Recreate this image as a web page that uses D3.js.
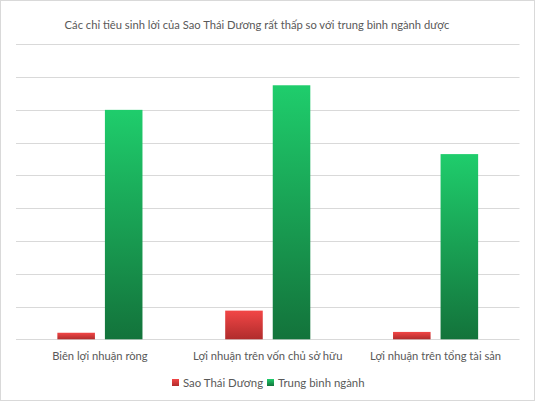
<!DOCTYPE html>
<html><head><meta charset="utf-8">
<script src="https://cdn.jsdelivr.net/npm/d3@7"></script>
<style>body{margin:0;background:#fff}svg{display:block}</style>
</head><body>
<svg id="c" width="535" height="401"></svg>
<script>
const title = "Các chỉ tiêu sinh lời của Sao Thái Dương rất thấp so với trung bình ngành dược";
const categories = ["Biên lợi nhuận ròng", "Lợi nhuận trên vốn chủ sở hữu", "Lợi nhuận trên tổng tài sản"];
const seriesNames = ["Sao Thái Dương", "Trung bình ngành"];
const saoThaiDuong = [0.4, 1.75, 0.45];
const trungBinhNganh = [14, 15.5, 11.3];
const yTicks = [0, 2, 4, 6, 8, 10, 12, 14, 16, 18];

const seriesValues = [saoThaiDuong, trungBinhNganh];
const colors = [["#f24646", "#b02c2c"], ["#1fcd6c", "#13733b"]];
const font = "Lato, 'Open Sans', sans-serif";
const fs = 11.2;

const svg = d3.select("#c");
svg.append("rect").attr("x", 0.5).attr("y", 0.5).attr("width", 534).attr("height", 400)
  .attr("fill", "#fff").attr("stroke", "#d9d9d9");

const defs = svg.append("defs");
colors.forEach((c, i) => {
  const g = defs.append("linearGradient").attr("id", "g" + i).attr("x1", 0).attr("y1", 0).attr("x2", 0).attr("y2", 1);
  g.append("stop").attr("offset", "0%").attr("stop-color", c[0]);
  g.append("stop").attr("offset", "100%").attr("stop-color", c[1]);
});

const x0 = d3.scaleBand().domain(categories).range([16, 519.5]).padding(0);
const x1 = d3.scaleBand().domain(seriesNames).range([0, x0.bandwidth()]).paddingInner(0.21).paddingOuter(0.87);
const y = d3.scaleLinear().domain([0, 18]).range([339.3, 44.3]);

svg.append("g").selectAll("line").data(yTicks).join("line")
  .attr("x1", 16).attr("x2", 519.5)
  .attr("y1", d => Math.round(y(d)) + 0.5).attr("y2", d => Math.round(y(d)) + 0.5)
  .attr("stroke", "#d9d9d9").attr("stroke-width", 1);

seriesNames.forEach((s, si) => {
  svg.append("g").selectAll("rect").data(categories).join("rect")
    .attr("x", c => x0(c) + x1(s))
    .attr("width", x1.bandwidth())
    .attr("y", (c, ci) => y(seriesValues[si][ci]))
    .attr("height", (c, ci) => y(0) - y(seriesValues[si][ci]))
    .attr("fill", "url(#g" + si + ")");
});

const xAxis = svg.append("g").attr("transform", "translate(0,339.3)")
  .call(d3.axisBottom(x0).tickSize(0).tickPadding(13));
xAxis.select(".domain").remove();
xAxis.selectAll("text").attr("font-family", font).attr("font-size", fs).attr("fill", "#595959");

svg.append("text").attr("x", 257).attr("y", 29).attr("text-anchor", "middle")
  .attr("font-family", font).attr("font-size", fs).attr("fill", "#595959").text(title);

const legend = svg.append("g").attr("transform", "translate(0,383)");
const items = [{ x: 172 }, { x: 267 }];
seriesNames.forEach((s, i) => {
  const g = legend.append("g").attr("transform", `translate(${items[i].x},0)`);
  g.append("rect").attr("x", 0).attr("y", -4).attr("width", 7).attr("height", 7).attr("fill", "url(#g" + i + ")");
  g.append("text").attr("x", 11).attr("y", 4).attr("font-family", font).attr("font-size", fs + 0.2)
    .attr("fill", "#595959").text(s);
});
</script>
</body></html>
